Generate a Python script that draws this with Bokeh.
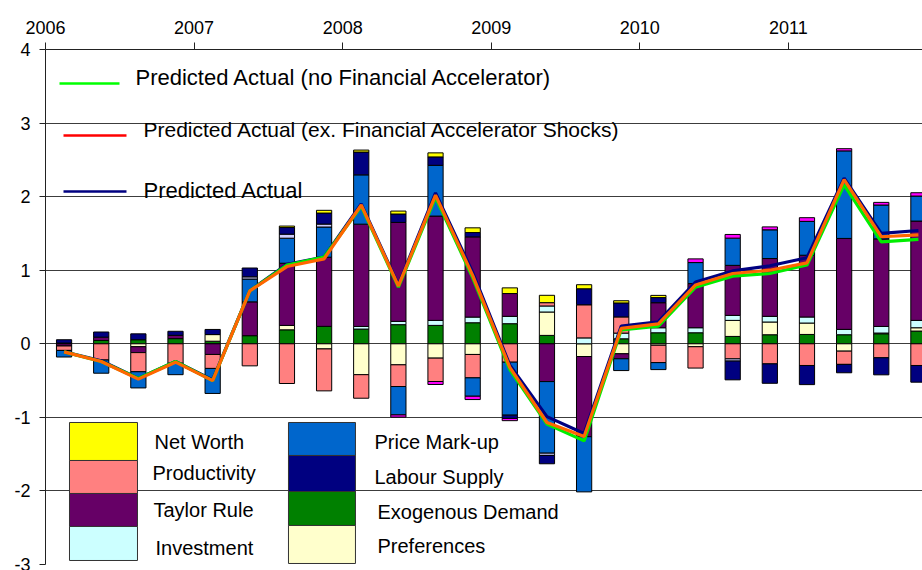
import numpy as np
from bokeh.plotting import figure
from bokeh.models import Range1d, FixedTicker
from bokeh.core.properties import value
from bokeh.embed import file_html
from bokeh.resources import INLINE

# ---------------- data ----------------
year_labels = ["2006", "2007", "2008", "2009", "2010", "2011"]
y_ticks = [-3, -2, -1, 0, 1, 2, 3, 4]
quarters = [f"{y}Q{q}" for y in range(2006, 2012) for q in range(1, 5)]

exogenous_demand = [0.01, 0.045, 0.055, 0.07, 0.035, 0.11, 0.19, 0.237, 0.2, 0.26, 0.25, 0.286,
                    0.273, 0.114, 0.0, 0.068, 0.15, 0.15, 0.1, 0.123, 0.127, 0.123, 0.136, 0.173]
preferences = [0.0, 0.0, -0.04, 0.0, 0.09, 0.0, 0.06, -0.07, -0.42, -0.286, -0.195, -0.145,
               0.0, 0.318, -0.173, -0.136, -0.02, -0.04, 0.218, 0.173, 0.155, -0.1, 0.01, 0.045]
investment = [0.0, 0.0, 0.0, 0.0, 0.0, 0.0, 0.0, 0.0, 0.036, 0.045, 0.068, 0.077,
              0.1, 0.082, 0.08, 0.077, 0.068, 0.068, 0.068, 0.077, 0.082, 0.073, 0.09, 0.1]
taylor_rule = [-0.03, 0.045, -0.08, 0.045, -0.145, 0.46, 0.845, 0.94, 1.39, 1.345, 1.418, 1.09,
               0.31, -0.514, -1.09, -0.068, 0.34, 0.6, 0.68, 0.786, 0.84, 1.236, 1.19, 1.35]
productivity = [-0.06, -0.22, -0.26, -0.265, -0.19, -0.30, -0.54, -0.57, -0.32, -0.295, -0.318, -0.318,
                -0.25, 0.045, 0.45, 0.22, -0.236, -0.29, -0.205, -0.273, -0.295, -0.18, -0.19, -0.295]
price_markup = [-0.09, -0.18, -0.22, -0.155, -0.34, 0.31, 0.34, 0.41, 0.67, -0.386, 0.69, -0.25,
                -0.72, -0.973, -0.75, -0.16, -0.095, 0.286, 0.37, 0.39, 0.46, 1.19, 0.46, 0.34]
other_light = [0.0, 0.0, 0.0, 0.0, 0.0, 0.03, 0.055, 0.04, 0.0, 0.0, 0.0, 0.0,
               0.0, -0.03, 0.0, 0.0, 0.0, 0.0, -0.03, 0.0, 0.0, 0.0, 0.0, 0.0]
labour_supply = [0.045, 0.07, 0.08, 0.055, 0.07, 0.12, 0.09, 0.15, 0.31, 0.114, 0.114, 0.059,
                 -0.045, -0.114, 0.218, 0.19, 0.07, 0.0, -0.255, -0.264, -0.26, -0.114, -0.232, -0.227]
net_worth = [0.0, 0.0, 0.0, 0.0, 0.0, 0.0, 0.02, 0.037, 0.027, 0.04, 0.055, 0.064,
             0.077, 0.1, 0.055, 0.03, 0.03, 0.0, 0.0, 0.0, 0.0, 0.0, 0.0, 0.0]
other_magenta = [0.0, 0.0, 0.0, 0.0, 0.0, 0.0, 0.0, 0.0, 0.0, -0.03, -0.04, -0.045,
                 -0.03, 0.0, 0.0, 0.0, 0.0, 0.05, 0.05, 0.04, 0.05, 0.03, 0.036, 0.045]

predicted_actual = [-0.11, -0.23, -0.47, -0.24, -0.49, 0.72, 1.08, 1.18, 1.90, 0.80, 2.05, 0.97,
                    -0.29, -0.99, -1.22, 0.24, 0.30, 0.84, 0.99, 1.06, 1.17, 2.25, 1.50, 1.54]
predicted_ex_fa_shocks = [-0.11, -0.24, -0.48, -0.25, -0.50, 0.72, 1.05, 1.155, 1.886, 0.786, 2.02, 0.93,
                          -0.32, -1.07, -1.26, 0.21, 0.27, 0.80, 0.955, 1.00, 1.10, 2.23, 1.455, 1.48]
predicted_no_fa = [-0.11, -0.24, -0.47, -0.24, -0.50, 0.72, 1.07, 1.18, 1.87, 0.77, 1.99, 0.90,
                   -0.35, -1.09, -1.32, 0.19, 0.24, 0.77, 0.92, 0.955, 1.07, 2.16, 1.386, 1.42]

# stacking order (as in the source workbook) and colours
stack = [
    ("Exogenous Demand", exogenous_demand, "#008000"),
    ("Preferences", preferences, "#FFFFCC"),
    ("Investment", investment, "#CCFFFF"),
    ("Taylor Rule", taylor_rule, "#660066"),
    ("Productivity", productivity, "#FF8080"),
    ("Price Mark-up", price_markup, "#0066CC"),
    ("Other", other_light, "#CCCCFF"),
    ("Labour Supply", labour_supply, "#000080"),
    ("Net Worth", net_worth, "#FFFF00"),
    ("Other 2", other_magenta, "#FF00FF"),
]
colour = {name: c for name, _, c in stack}

FONT = value("Liberation Sans")

p = figure(width=922, height=570, output_backend="svg", toolbar_location=None,
           x_axis_location="above",
           x_range=Range1d(0, 23.61), y_range=Range1d(-3, 4),
           min_border_left=45, min_border_right=0, min_border_top=49, min_border_bottom=6)
p.outline_line_color = None
p.background_fill_color = "white"
p.border_fill_color = "white"

# axes
p.xaxis.ticker = FixedTicker(ticks=[4 * i for i in range(len(year_labels))])
p.xaxis.major_label_overrides = {4 * i: lab for i, lab in enumerate(year_labels)}
p.xaxis.major_label_text_align = "left"
p.xaxis.major_label_text_font = "Liberation Sans"
p.xaxis.major_label_text_font_size = "18px"
p.xaxis.major_label_text_color = "black"
p.xaxis.major_tick_out = 7
p.xaxis.major_tick_in = 0
p.xaxis.minor_tick_line_color = None
p.xaxis.major_label_standoff = 9
p.xaxis.axis_line_color = "#222222"
p.xaxis.major_tick_line_color = "#222222"

p.yaxis.ticker = FixedTicker(ticks=y_ticks)
p.yaxis.major_label_overrides = {t: str(t) for t in y_ticks}
p.yaxis.major_label_text_font = "Liberation Sans"
p.yaxis.major_label_text_font_size = "18px"
p.yaxis.major_label_text_color = "black"
p.yaxis.major_tick_out = 6
p.yaxis.major_tick_in = 0
p.yaxis.minor_tick_line_color = None
p.yaxis.major_label_standoff = 9
p.yaxis.axis_line_color = "#222222"
p.yaxis.major_tick_line_color = "#222222"

p.xgrid.grid_line_color = None
p.ygrid.ticker = FixedTicker(ticks=[t for t in y_ticks if t < 4])
p.ygrid.grid_line_color = "#3c3c3c"
p.ygrid.grid_line_width = 1.2

# stacked bars (positive upward, negative downward)
xs = np.arange(len(quarters)) + 0.5
pos_base = np.zeros(len(quarters))
neg_base = np.zeros(len(quarters))
for name, vals, c in stack:
    v = np.array(vals, dtype=float)
    pos = np.where(v > 0, v, 0.0)
    neg = np.where(v < 0, v, 0.0)
    bottom = np.where(v >= 0, pos_base, neg_base + neg)
    top = np.where(v >= 0, pos_base + pos, neg_base)
    pos_base = pos_base + pos
    neg_base = neg_base + neg
    m = v != 0
    p.vbar(x=xs[m], bottom=bottom[m], top=top[m], width=0.41,
           fill_color=c, line_color="black", line_width=1)

# lines
p.line(xs, predicted_actual, line_color="#000080", line_width=3.2)
p.line(xs, predicted_no_fa, line_color="#00EE00", line_width=3.2)
p.line(xs, predicted_ex_fa_shocks, line_color="#FF6600", line_width=3.2)

# ---------------- legends (layout in page pixels -> data units) ----------------
X0_PX, Q_PX, Y0_PX, U_PX = 45.0, 37.15, 343.3, 73.57
def dx(px):
    return (px - X0_PX) / Q_PX
def dy(py):
    return (Y0_PX - py) / U_PX

line_legend = [
    ("Predicted Actual (no Financial Accelerator)", "#00FF00", 59, 119, 83, 135, 77, "22px"),
    ("Predicted Actual (ex. Financial Accelerator Shocks)", "#FF0000", 63, 126, 135, 143, 129, "21px"),
    ("Predicted Actual", "#000080", 63, 126, 191, 143, 190, "22px"),
]
for lab, c, lx0, lx1, ly, tx, ty, fs in line_legend:
    p.segment(x0=[dx(lx0)], y0=[dy(ly)], x1=[dx(lx1)], y1=[dy(ly)], line_color=c, line_width=2.5)
    p.text(x=[dx(tx)], y=[dy(ty)], text=[lab], text_font=FONT, text_font_size=fs,
           text_align="left", text_baseline="alphabetic", text_color="black")

box_legend = [
    # label, box x0, x1, y_top, y_bottom, text x, text baseline
    ("Net Worth", 69, 137, 422, 460, 154, 442),
    ("Productivity", 69, 137, 460, 493, 152, 473),
    ("Taylor Rule", 69, 137, 493, 526, 153, 510),
    ("Investment", 69, 137, 526, 560, 155, 548),
    ("Price Mark-up", 288, 355, 422, 455, 374, 442),
    ("Labour Supply", 288, 355, 455, 491, 374, 477),
    ("Exogenous Demand", 288, 355, 491, 525, 377, 512),
    ("Preferences", 288, 355, 525, 563, 377, 546),
]
for lab, bx0, bx1, by0, by1, tx, ty in box_legend:
    p.quad(left=[dx(bx0)], right=[dx(bx1)], top=[dy(by0)], bottom=[dy(by1)],
           fill_color=colour[lab], line_color="#333333", line_width=1)
    p.text(x=[dx(tx)], y=[dy(ty)], text=[lab], text_font=FONT, text_font_size="20px",
           text_align="left", text_baseline="alphabetic", text_color="black")

open("out.html", "w").write(file_html(p, INLINE))
